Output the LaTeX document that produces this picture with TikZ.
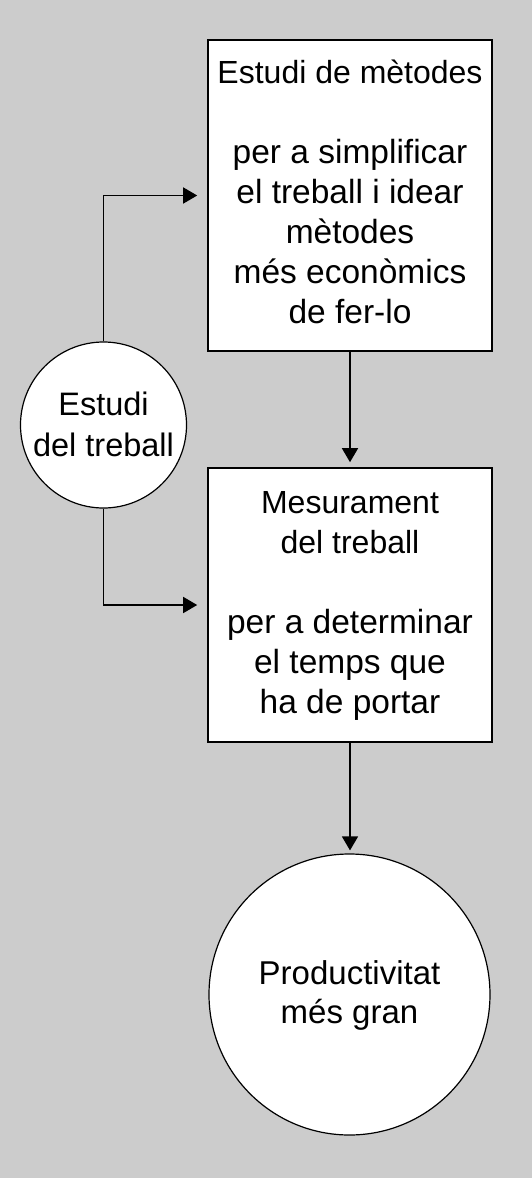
\documentclass[tikz,border=0pt]{standalone}
\usepackage{fontspec}
\setmainfont{Liberation Sans}
\usetikzlibrary{arrows.meta}
\definecolor{bggray}{RGB}{204,204,204}
\newcommand\bodyfont{\fontsize{33.5}{40}\selectfont}
\tikzset{
  boxnode/.style={draw=black, line width=1.6pt, fill=white, minimum width=284pt, inner sep=0pt},
  circnode/.style={circle, draw=black, line width=1.2pt, fill=white, inner sep=0pt},
  txt/.style={anchor=base, inner sep=0pt, font=\fontsize{32}{40}\selectfont},
  arr/.style={line width=1.5pt, -{Triangle[length=14pt,width=16pt]}},
}
\begin{document}
\begin{tikzpicture}[x=1pt,y=-1pt]
\fill[bggray] (0,0) rectangle (532,1178);
\useasboundingbox (0,0) rectangle (532,1178);

\node[boxnode, minimum height=311pt] (b1) at (350,195.5) {};
\node[boxnode, minimum height=274pt] (b2) at (350,605) {};
\node[circnode, minimum size=166pt] (c1) at (103.5,425) {};
\node[circnode, minimum size=281pt] (c2) at (349.5,994.5) {};

\node[txt] (t1) at (350,83) {\begin{tabular}[t]{@{}c@{}}Estudi de mètodes\\ \\ \bodyfont per a simplificar\\ \bodyfont el treball i idear\\ \bodyfont mètodes\\ \bodyfont més econòmics\\ \bodyfont de fer-lo\end{tabular}};
\node[txt] (t2) at (350,513) {\begin{tabular}[t]{@{}c@{}}Mesurament\\ del treball\\ \\ \bodyfont per a determinar\\ \bodyfont el temps que\\ \bodyfont ha de portar\end{tabular}};
\node[txt, font=\fontsize{32.5}{41}\selectfont] (t3) at (103.5,415) {\begin{tabular}[t]{@{}c@{}}Estudi\\ del treball\end{tabular}};
\node[txt, font=\fontsize{33}{39}\selectfont] (t4) at (349.5,984) {\begin{tabular}[t]{@{}c@{}}Productivitat\\ més gran\end{tabular}};

\draw[arr, shorten >=10pt] (c1.north) |- (b1.west);
\draw[arr, shorten >=10pt] (c1.south) |- (b2.west);
\draw[arr, shorten >=5pt] (b1.south) -- (b2.north);
\draw[arr, shorten >=3pt] (b2.south) -- (b2.south |- c2.north);
\end{tikzpicture}
\end{document}
